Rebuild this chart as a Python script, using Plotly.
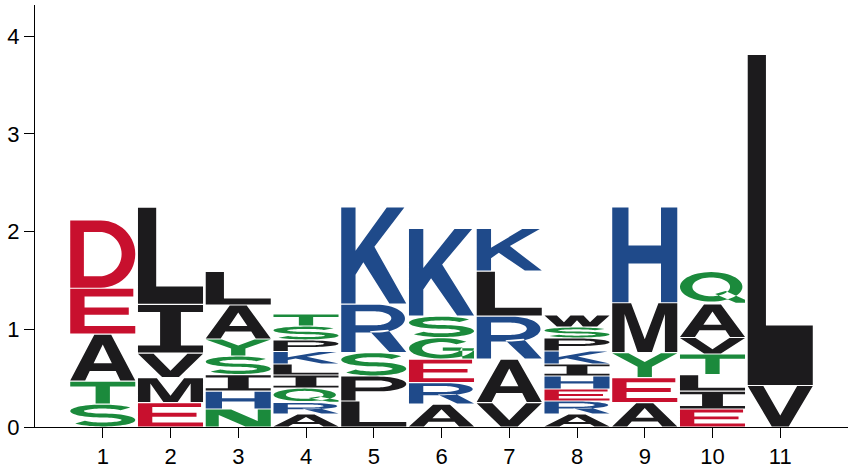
import math
import plotly.graph_objects as go

# ---------------- data (bottom -> top in each stack) ----------------
positions = [1, 2, 3, 4, 5, 6, 7, 8, 9, 10, 11]

letters_1 = ["S", "T", "A", "E", "D"]
heights_1 = [0.235, 0.235, 0.48, 0.47, 0.70]
letters_2 = ["E", "M", "V", "I", "L"]
heights_2 = [0.25, 0.256, 0.25, 0.50, 0.995]
letters_3 = ["N", "H", "I", "S", "Y", "A", "L"]
heights_3 = [0.184, 0.184, 0.169, 0.19, 0.174, 0.348, 0.343]
letters_4 = ["A", "R", "Q", "I", "L", "K", "P", "S", "T"]
heights_4 = [0.133, 0.118, 0.148, 0.133, 0.113, 0.128, 0.118, 0.143, 0.123]
letters_5 = ["L", "P", "S", "R", "K"]
heights_5 = [0.266, 0.256, 0.24, 0.496, 0.995]
letters_6 = ["A", "R", "E", "G", "S", "K"]
heights_6 = [0.235, 0.22, 0.24, 0.22, 0.22, 0.897]
letters_7 = ["V", "A", "R", "L", "K"]
heights_7 = [0.25, 0.445, 0.44, 0.46, 0.437]
letters_8 = ["A", "R", "E", "H", "I", "K", "P", "S", "W"]
heights_8 = [0.133, 0.133, 0.123, 0.133, 0.123, 0.133, 0.133, 0.113, 0.123]
letters_9 = ["A", "E", "Y", "M", "H"]
heights_9 = [0.25, 0.256, 0.256, 0.51, 0.98]
letters_10 = ["E", "I", "L", "T", "V", "A", "Q"]
heights_10 = [0.184, 0.184, 0.169, 0.21, 0.169, 0.343, 0.333]
letters_11 = ["V", "L"]
heights_11 = [0.425, 3.39]

y_ticks = [0, 1, 2, 3, 4]

columns = [
    (letters_1, heights_1), (letters_2, heights_2), (letters_3, heights_3),
    (letters_4, heights_4), (letters_5, heights_5), (letters_6, heights_6),
    (letters_7, heights_7), (letters_8, heights_8), (letters_9, heights_9),
    (letters_10, heights_10), (letters_11, heights_11),
]

# ---------------- colours ----------------
RED = "#C8102E"
BLUE = "#1F4A8A"
GREEN = "#1B8A3C"
BLACK = "#1C1B1D"
color_of = {}
for ch in "DE":
    color_of[ch] = RED
for ch in "KRH":
    color_of[ch] = BLUE
for ch in "STYNQG":
    color_of[ch] = GREEN
for ch in "AVLIMPWFC":
    color_of[ch] = BLACK


# ---------------- glyph outlines (design space 1000 x 1000) ----------------
def arc(cx, cy, rx, ry, a0, a1, n=28):
    pts = []
    for i in range(n + 1):
        a = math.radians(a0 + (a1 - a0) * i / n)
        pts.append((cx + rx * math.cos(a), cy + ry * math.sin(a)))
    return pts


def s_outline():
    tx, ty = 210.0, 180.0
    ry = (1000 - ty) / 4.0
    rx = 500 - tx / 2.0
    cu = 500 + ry
    cl = 500 - ry
    center = arc(500, cu, rx, ry, 28, 270, 40) + arc(500, cl, rx, ry, 90, -152, 40)[1:]
    sc = tx / ty
    pts = [(x / sc, y) for x, y in center]
    left, right = [], []
    n = len(pts)
    for i in range(n):
        a = pts[max(i - 1, 0)]
        b = pts[min(i + 1, n - 1)]
        dx, dy = b[0] - a[0], b[1] - a[1]
        L = math.hypot(dx, dy) or 1.0
        nx, ny = -dy / L, dx / L
        x, y = pts[i]
        left.append(((x + nx * ty / 2) * sc, y + ny * ty / 2))
        right.append(((x - nx * ty / 2) * sc, y - ny * ty / 2))
    return left + right[::-1]


GLYPHS = {
    "A": [("o", [(0, 0), (230, 0), (300, 210), (700, 210), (770, 0), (1000, 0), (630, 1000), (370, 1000)]),
          ("h", [(360, 375), (640, 375), (500, 790)])],
    "D": [("o", [(0, 0), (470, 0)] + arc(470, 500, 530, 500, -90, 90) + [(470, 1000), (0, 1000)]),
          ("h", [(210, 170), (450, 170)] + arc(450, 500, 340, 330, -90, 90) + [(450, 830), (210, 830)])],
    "E": [("o", [(0, 0), (1000, 0), (1000, 170), (220, 170), (220, 420), (900, 420), (900, 585),
                 (220, 585), (220, 830), (970, 830), (970, 1000), (0, 1000)])],
    "G": [("o", arc(500, 500, 500, 500, 40, 360) + arc(500, 500, 300, 310, 360, 40)),
          ("o", [(520, 380), (1000, 380), (1000, 540), (520, 540)]),
          ("o", [(820, 0), (1000, 0), (1000, 540), (820, 540)])],
    "H": [("o", [(0, 0), (250, 0), (250, 410), (750, 410), (750, 0), (1000, 0), (1000, 1000),
                 (750, 1000), (750, 600), (250, 600), (250, 1000), (0, 1000)])],
    "I": [("o", [(0, 0), (1000, 0), (1000, 150), (660, 150), (660, 850), (1000, 850), (1000, 1000),
                 (0, 1000), (0, 850), (340, 850), (340, 150), (0, 150)])],
    "K": [("o", [(0, 0), (220, 0), (220, 300), (340, 430), (740, 0), (1000, 0), (510, 590),
                 (970, 1000), (700, 1000), (220, 550), (220, 1000), (0, 1000)])],
    "L": [("o", [(0, 0), (1000, 0), (1000, 180), (280, 180), (280, 1000), (0, 1000)])],
    "M": [("o", [(0, 0), (190, 0), (190, 780), (390, 0), (610, 0), (810, 780), (810, 0), (1000, 0),
                 (1000, 1000), (710, 1000), (500, 260), (290, 1000), (0, 1000)])],
    "N": [("o", [(0, 0), (200, 0), (200, 680), (610, 0), (1000, 0), (1000, 1000), (800, 1000),
                 (800, 320), (390, 1000), (0, 1000)])],
    "P": [("o", [(0, 0), (220, 0), (220, 380), (560, 380)] + arc(560, 690, 440, 310, -90, 90)
           + [(560, 1000), (0, 1000)]),
          ("h", [(220, 540), (530, 540)] + arc(530, 690, 250, 150, -90, 90) + [(530, 840), (220, 840)])],
    "Q": [("o", arc(480, 530, 480, 470, 0, 360, 56)),
          ("h", arc(480, 530, 290, 300, 0, 360, 56)),
          ("o", [(540, 300), (700, 400), (1000, 120), (1000, 20), (860, 20)])],
    "R": [("o", [(0, 0), (220, 0), (220, 410), (540, 410)] + arc(540, 705, 440, 295, -90, 90)
           + [(540, 1000), (0, 1000)]),
          ("h", [(220, 565), (520, 565)] + arc(520, 712, 250, 147, -90, 90) + [(520, 859), (220, 859)]),
          ("o", [(440, 440), (740, 0), (1000, 0), (720, 470)])],
    "S": [("o", s_outline())],
    "T": [("o", [(0, 1000), (1000, 1000), (1000, 780), (610, 780), (610, 0), (390, 0), (390, 780),
                 (0, 780)])],
    "V": [("o", [(0, 1000), (370, 0), (630, 0), (1000, 1000), (760, 1000), (500, 270), (240, 1000)])],
    "W": [("o", [(0, 1000), (190, 0), (410, 0), (500, 560), (590, 0), (810, 0), (1000, 1000),
                 (810, 1000), (700, 380), (600, 1000), (400, 1000), (300, 380), (190, 1000)])],
    "Y": [("o", [(0, 1000), (390, 430), (390, 0), (610, 0), (610, 430), (1000, 1000), (750, 1000),
                 (500, 630), (250, 1000)])],
}


def signed_area(pts):
    s = 0.0
    for i in range(len(pts)):
        x1, y1 = pts[i]
        x2, y2 = pts[(i + 1) % len(pts)]
        s += x1 * y2 - x2 * y1
    return s / 2.0


def glyph_path(ch, x0, y0, w, h):
    parts = []
    for kind, pts in GLYPHS[ch]:
        a = signed_area(pts)
        if (kind == "o" and a < 0) or (kind == "h" and a > 0):
            pts = pts[::-1]
        coords = [(x0 + px / 1000.0 * w, y0 + py / 1000.0 * h) for px, py in pts]
        seg = "M" + " L".join("%.5f,%.5f" % c for c in coords) + " Z"
        parts.append(seg)
    return " ".join(parts)


# ---------------- figure ----------------
fig = go.Figure()
fig.add_trace(go.Scatter(x=[None], y=[None], mode="markers", showlegend=False, hoverinfo="skip"))

col_w = 0.96
pad = 0.006
for pos, (lets, hts) in zip(positions, columns):
    base = 0.0
    for ch, hv in zip(lets, hts):
        y0 = base + pad
        hh = max(hv - 2 * pad, 0.001)
        fig.add_shape(type="path", xref="x", yref="y",
                      path=glyph_path(ch, pos - col_w / 2, y0, col_w, hh),
                      fillcolor=color_of[ch], line=dict(width=0), layer="above")
        base += hv

axis_font = dict(family="Liberation Sans", size=22, color="black")
fig.update_layout(
    width=850, height=472,
    margin=dict(l=35, r=2, t=5, b=45),
    paper_bgcolor="white", plot_bgcolor="white",
    showlegend=False,
    font=axis_font,
    xaxis=dict(range=[0, 12], tickvals=positions, ticktext=[str(p) for p in positions],
               showline=True, linecolor="black", linewidth=1, ticks="outside", ticklen=10,
               tickcolor="black", showgrid=False, zeroline=False, tickfont=axis_font, fixedrange=True),
    yaxis=dict(range=[0, 4.32], tickvals=y_ticks, ticktext=[str(v) for v in y_ticks],
               showline=True, linecolor="black", linewidth=1, ticks="outside", ticklen=10,
               tickcolor="black", showgrid=False, zeroline=False, tickfont=axis_font, fixedrange=True),
)

fig.write_html("out.html")
